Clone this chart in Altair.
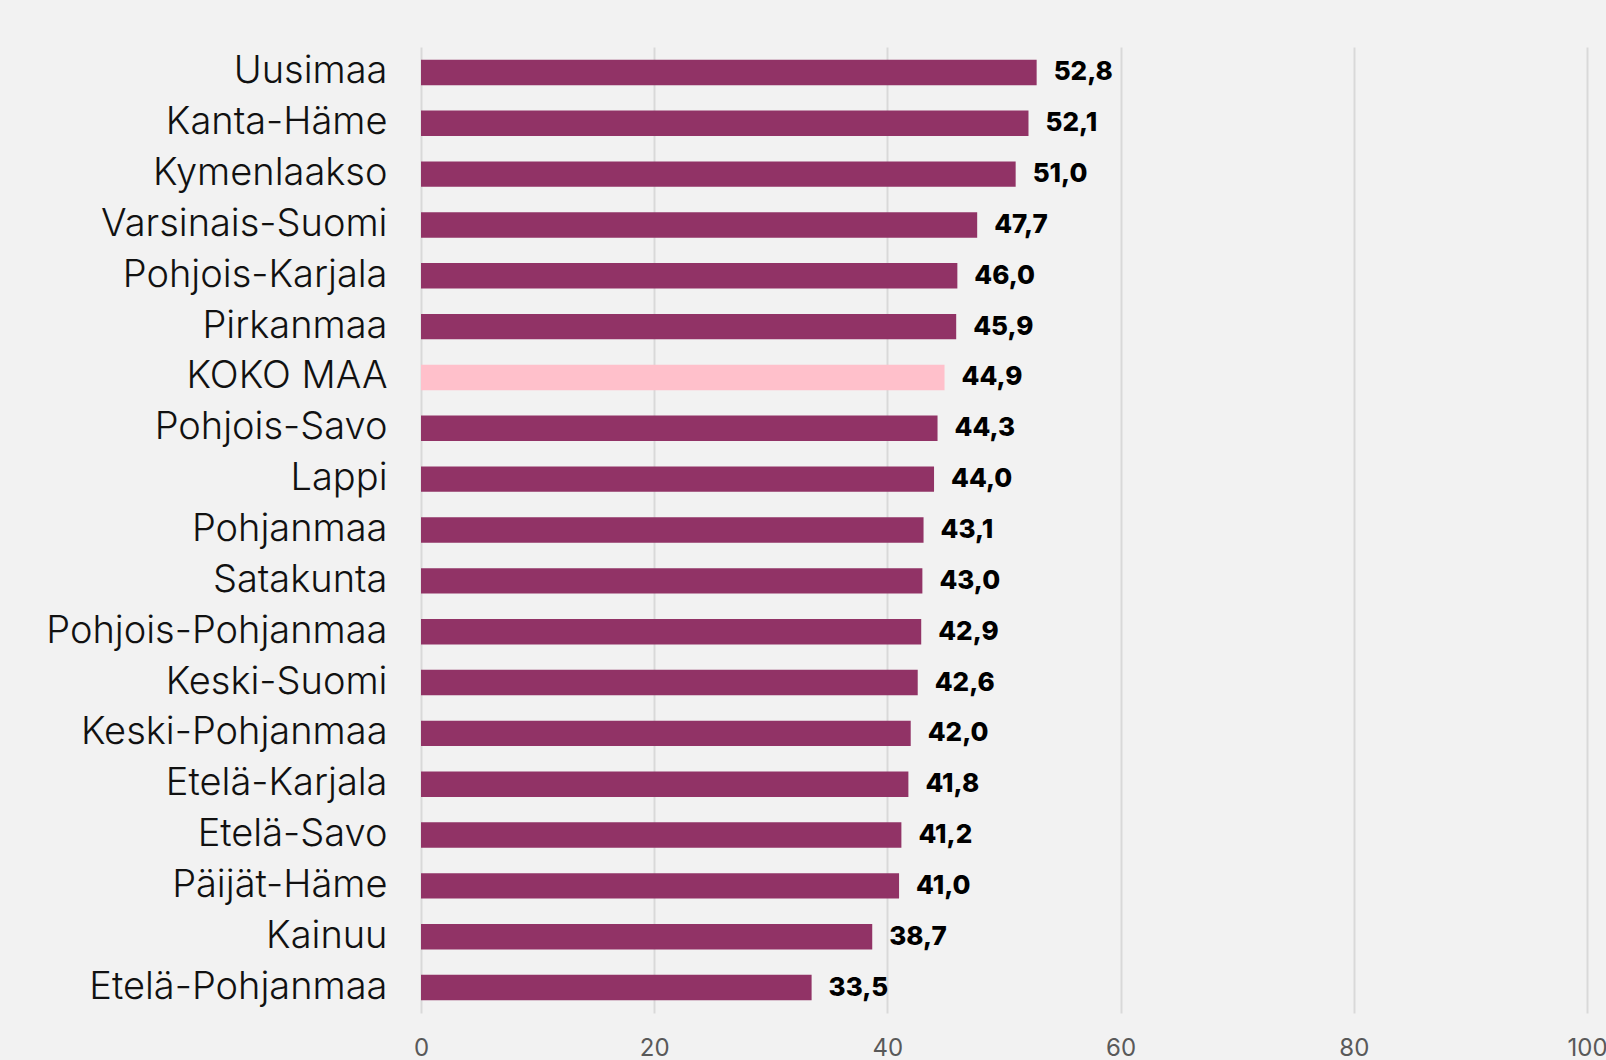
import altair as alt
import pandas as pd

regions = ["Uusimaa", "Kanta-Häme", "Kymenlaakso", "Varsinais-Suomi", "Pohjois-Karjala",
           "Pirkanmaa", "KOKO MAA", "Pohjois-Savo", "Lappi", "Pohjanmaa", "Satakunta",
           "Pohjois-Pohjanmaa", "Keski-Suomi", "Keski-Pohjanmaa", "Etelä-Karjala",
           "Etelä-Savo", "Päijät-Häme", "Kainuu", "Etelä-Pohjanmaa"]
values = [52.8, 52.1, 51.0, 47.7, 46.0, 45.9, 44.9, 44.3, 44.0, 43.1, 43.0,
          42.9, 42.6, 42.0, 41.8, 41.2, 41.0, 38.7, 33.5]
highlight = "KOKO MAA"
x_ticks = [0, 20, 40, 60, 80, 100]

df = pd.DataFrame({"alue": regions, "arvo": values})
df["ryhma"] = ["koko" if r == highlight else "alue" for r in regions]

y_enc = alt.Y("alue:N", sort=regions, title=None,
              scale=alt.Scale(paddingInner=0.5, paddingOuter=0.25),
              axis=alt.Axis(labelFont="Inter", labelFontSize=38, labelFontWeight=300,
                            labelColor="#111111",
                            labelPadding=34, ticks=False, domain=False, grid=False,
                            labelLimit=600))

bars = alt.Chart(df).mark_bar().encode(
    x=alt.X("arvo:Q", scale=alt.Scale(domain=[0, 100], nice=False), title=None,
            axis=alt.Axis(values=x_ticks, labelFont="Inter", labelFontSize=24,
                          labelColor="#595959", labelPadding=23, ticks=False, domain=False,
                          labelFlush=False, labelOverlap=False,
                          grid=True, gridColor="#d9d9d9", gridWidth=2)),
    y=y_enc,
    color=alt.Color("ryhma:N", scale=alt.Scale(domain=["alue", "koko"],
                                               range=["#913366", "#ffc0cb"]), legend=None),
)

labels = alt.Chart(df).transform_calculate(
    teksti="replace(format(datum.arvo, '.1f'), '.', ',')"
).mark_text(align="left", baseline="middle", dx=17, font="Inter",
            fontWeight=800, fontSize=26, color="#000000").encode(
    x="arvo:Q",
    y=alt.Y("alue:N", sort=regions),
    text="teksti:N",
)

chart = (bars + labels).properties(
    width=1166, height=966,
    background="#f2f2f2",
    padding={"left": 421, "top": 47, "right": 19, "bottom": 47},
    autosize=alt.AutoSizeParams(type="none"),
).configure_view(stroke=None)

chart.save("out.html", embed_options={"renderer": "svg", "actions": False})
